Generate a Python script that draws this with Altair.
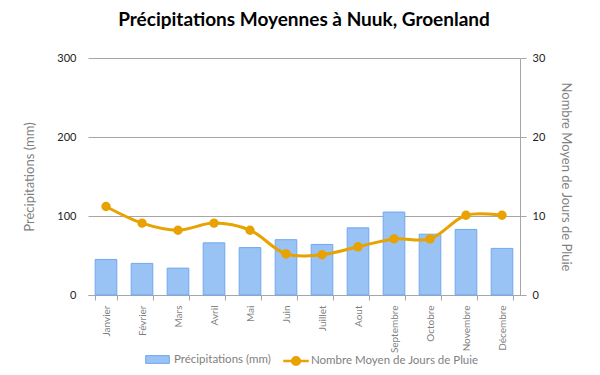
import altair as alt
import pandas as pd

mois = ["Janvier", "Février", "Mars", "Avril", "Mai", "Juin", "Juillet",
        "Aout", "Septembre", "Octobre", "Novembre", "Décembre"]
precip = [45, 40, 34, 66, 60, 70, 64, 85, 105, 77, 83, 59]
jours = [11.2, 9.1, 8.2, 9.1, 8.2, 5.2, 5.1, 6.1, 7.1, 7.1, 10.1, 10.1]

df = pd.DataFrame({"Mois": mois, "Precip": precip, "Jours": jours,
                   "s1": "Précipitations (mm)",
                   "s2": "Nombre Moyen de Jours de Pluie"})

FONT = "Lato"
GRAY = "#7f7f7f"

x = alt.X("Mois:N", sort=mois, title=None,
          scale=alt.Scale(paddingInner=0.4, paddingOuter=0.2),
          axis=alt.Axis(labelAngle=-90, labelColor=GRAY, labelFontSize=10,
                        labelFont=FONT, domainColor="#a6a6a6", tickColor="#a6a6a6",
                        tickBand="extent", labelPadding=5, labelBaseline="middle"))

bars = alt.Chart(df).mark_bar(stroke="#6fa8ee", strokeWidth=1, fill="#99c2f5").encode(
    x=x,
    y=alt.Y("Precip:Q", title="Précipitations (mm)",
            scale=alt.Scale(domain=[0, 300]),
            axis=alt.Axis(values=[0, 100, 200, 300], grid=True, gridColor="#a6a6a6",
                          domain=False, ticks=False, labelPadding=12,
                          labelColor="#222222", labelFontSize=11, labelFont=FONT,
                          titleColor=GRAY, titleFontWeight="normal", titleFontSize=13,
                          titleFont=FONT, titlePadding=20)),
    fill=alt.Fill("s1:N", scale=alt.Scale(range=["#99c2f5"]),
                  legend=alt.Legend(title=None, orient="none", legendX=57, legendY=289,
                                    symbolType="M-1,-0.33H1V0.33H-1Z", symbolSize=560,
                                    symbolStrokeColor="#6fa8ee", symbolStrokeWidth=1,
                                    labelColor=GRAY, labelFontSize=11.5, labelFont=FONT,
                                    labelOffset=4, labelLimit=300)),
)

line = alt.Chart(df).mark_line(
    color="#e8a202", strokeWidth=3, interpolate="catmull-rom",
    point=alt.OverlayMarkDef(filled=True, size=55, color="#e8a202")
).encode(
    x=x,
    y=alt.Y("Jours:Q", title="Nombre Moyen de Jours de Pluie",
            scale=alt.Scale(domain=[0, 30]),
            axis=alt.Axis(orient="right", values=[0, 10, 20, 30], grid=False,
                          domainColor="#a6a6a6", tickColor="#a6a6a6", tickSize=6,
                          labelPadding=6,
                          labelColor="#222222", labelFontSize=11, labelFont=FONT,
                          titleColor=GRAY, titleFontWeight="normal", titleFontSize=13,
                          titleFont=FONT, titlePadding=14, titleAngle=90)),
    stroke=alt.Stroke("s2:N", scale=alt.Scale(range=["#e8a202"]),
                      legend=alt.Legend(title=None, orient="none", legendX=194, legendY=289,
                                        symbolType="M-1,0H1M0.3,0A0.3,0.3 0 1,1 -0.3,0A0.3,0.3 0 1,1 0.3,0Z",
                                        symbolSize=650, symbolStrokeWidth=2.5,
                                        symbolFillColor="#e8a202",
                                        labelColor=GRAY, labelFontSize=11.5, labelFont=FONT,
                                        labelOffset=1, labelLimit=300)),
)

chart = alt.layer(bars, line).resolve_scale(y="independent", fill="independent", stroke="independent").properties(
    width=432, height=237,
    title=alt.TitleParams("Précipitations Moyennes à Nuuk, Groenland", fontSize=19,
                          font=FONT, fontWeight="bold", color="#000000", offset=22),
    autosize=alt.AutoSizeParams(type="none"),
    padding={"left": 80, "top": 50, "right": 72, "bottom": 72},
).configure_view(stroke=None)

chart.save("out.html", embed_options={"renderer": "svg", "actions": False})
